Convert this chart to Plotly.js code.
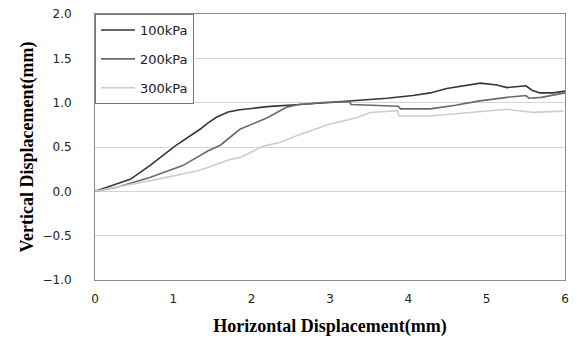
<!DOCTYPE html>
<html>
<head>
<meta charset="utf-8">
<script src="https://cdn.plot.ly/plotly-3.0.1.min.js"></script>
<style>
  html, body { margin: 0; padding: 0; background: #fff; }
  #chart { width: 584px; height: 339px; }
</style>
</head>
<body>
<div id="chart"></div>
<script>
// Horizontal vs vertical displacement under three normal stresses
const seriesNames = ['100kPa', '200kPa', '300kPa'];

const x100 = [0, 0.19, 0.45, 0.70, 1.02, 1.34, 1.44, 1.55, 1.70, 1.85, 2.20, 2.62, 2.97, 3.29, 3.73, 4.06, 4.28, 4.49, 4.92, 5.13, 5.26, 5.50, 5.58, 5.68, 5.85, 6.00];
const y100 = [0, 0.06, 0.135, 0.29, 0.51, 0.70, 0.77, 0.835, 0.895, 0.92, 0.955, 0.98, 1.00, 1.02, 1.05, 1.08, 1.11, 1.16, 1.22, 1.20, 1.17, 1.19, 1.14, 1.11, 1.11, 1.13];

const x200 = [0, 0.28, 0.70, 1.12, 1.44, 1.60, 1.85, 2.20, 2.45, 2.60, 2.90, 3.25, 3.27, 3.60, 3.87, 3.90, 4.28, 4.60, 4.91, 5.26, 5.50, 5.54, 5.70, 6.00];
const y200 = [0, 0.045, 0.155, 0.29, 0.455, 0.52, 0.70, 0.83, 0.95, 0.98, 1.00, 1.01, 0.98, 0.97, 0.96, 0.93, 0.93, 0.97, 1.02, 1.06, 1.08, 1.05, 1.06, 1.11];

const x300 = [0, 0.36, 0.79, 1.30, 1.44, 1.72, 1.85, 2.15, 2.36, 2.58, 3.00, 3.34, 3.51, 3.86, 3.88, 4.28, 4.70, 5.26, 5.60, 5.98];
const y300 = [0, 0.06, 0.135, 0.23, 0.27, 0.36, 0.38, 0.51, 0.55, 0.63, 0.76, 0.83, 0.89, 0.91, 0.85, 0.85, 0.88, 0.925, 0.89, 0.905];

const xTicks = [0, 1, 2, 3, 4, 5, 6];
const yTicks = [-1.0, -0.5, 0.0, 0.5, 1.0, 1.5, 2.0];

const xs = [x100, x200, x300];
const ys = [y100, y200, y300];
const colors = ['#363636', '#6a6a6a', '#cdcdcd'];

const traces = seriesNames.map((name, i) => ({
  x: xs[i], y: ys[i], name: name, type: 'scatter', mode: 'lines',
  legendgroup: 'g' + i,
  line: { color: colors[i], width: 1.6 }
}));

const tickFont = { family: '"DejaVu Sans", sans-serif', size: 12, color: '#222' };
const titleFont = { family: '"Liberation Serif", serif', size: 18, color: '#000', weight: 'bold' };

const layout = {
  width: 584, height: 339,
  margin: { l: 95, r: 19, t: 14, b: 59 },
  paper_bgcolor: '#fff', plot_bgcolor: '#fff',
  showlegend: true,
  legend: {
    x: 0, y: 1, xanchor: 'left', yanchor: 'top',
    bgcolor: '#fff', bordercolor: '#777', borderwidth: 1,
    font: { family: '"DejaVu Sans", sans-serif', size: 13, color: '#222' },
    traceorder: 'grouped', tracegroupgap: 9, itemwidth: 34
  },
  xaxis: {
    range: [0, 6], tickvals: xTicks, ticktext: xTicks.map(String),
    showgrid: false, zeroline: false, ticks: '',
    showline: true, linecolor: '#8a8a8a', linewidth: 1, mirror: true,
    tickfont: tickFont, ticklabelstandoff: 8,
    title: { text: 'Horizontal Displacement(mm)', font: titleFont, standoff: 13 }
  },
  yaxis: {
    range: [-1, 2], tickvals: yTicks, ticktext: yTicks.map(v => v.toFixed(1).replace('-', '\u2212')),
    showgrid: true, gridcolor: '#d4d4d4', gridwidth: 1, zeroline: false, ticks: '',
    showline: true, linecolor: '#8a8a8a', linewidth: 1, mirror: true,
    tickfont: tickFont, ticklabelstandoff: 20,
    title: { text: 'Vertical Displacement(mm)', font: titleFont, standoff: 4 }
  }
};

Plotly.newPlot('chart', traces, layout, { displayModeBar: false, staticPlot: true });
</script>
</body>
</html>
